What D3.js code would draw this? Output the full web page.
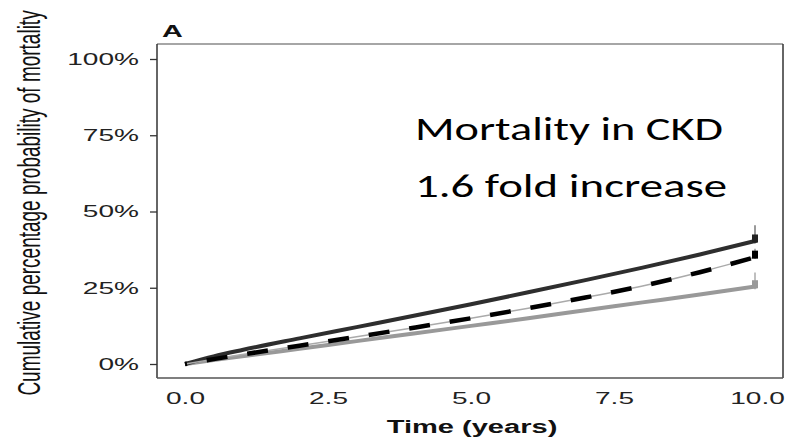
<!DOCTYPE html>
<html>
<head>
<meta charset="utf-8">
<script src="https://cdn.jsdelivr.net/npm/d3@7/dist/d3.min.js"></script>
<style>
  body { margin: 0; background: #fff; }
  svg { display: block; }
</style>
</head>
<body>
<div id="chart"></div>
<script>
// time points (years) and cumulative mortality (%)
var years = [0, 0.5, 1, 2, 3, 4, 5, 6, 7, 8, 9, 10];
var ckdMortality = [0, 2.5, 4.6, 8.4, 12.1, 15.8, 19.6, 23.5, 27.5, 31.6, 35.9, 40.5];
var dashedMortality = [0, 1.6, 3.1, 6.0, 8.9, 11.9, 15.0, 18.3, 21.8, 25.6, 30.1, 35.2];
var noCkdMortality = [0, 1.3, 2.5, 5.0, 7.5, 10.0, 12.5, 15.0, 17.6, 20.2, 22.8, 25.5];
// confidence bars at the last time point
var endUpper = [45.5, 37.8, 30];
var endLower = [39.5, 34.4, 24.5];
var endValue = [40.5, 35.2, 25.5];
var yTicks = [0, 25, 50, 75, 100];
var xTicks = [0, 2.5, 5, 7.5, 10];
var note = ["Mortality in CKD", "1.6 fold increase"];

var W = 789, H = 439;
var stretch = 1.65;
var frame = { left: 157, right: 783, top: 44, bottom: 378 };

var x = d3.scaleLinear().domain([0, 10]).range([185, 757]);
var y = d3.scaleLinear().domain([0, 100]).range([364, 59]);

var svg = d3.select("#chart").append("svg")
    .attr("width", W)
    .attr("height", H)
    .style("font-family", "'Liberation Sans', Arial, sans-serif");

// y axis ticks and labels
var yAxis = d3.axisLeft(y)
    .tickValues(yTicks)
    .tickSize(7)
    .tickFormat(function (d) { return d + "%"; });
var gy = svg.append("g")
    .attr("transform", "translate(" + frame.left + ",0)")
    .call(yAxis);
gy.select(".domain").remove();
gy.selectAll(".tick line").attr("stroke", "#333").attr("stroke-width", 1.3);
gy.selectAll(".tick text")
    .attr("x", 0)
    .attr("transform", "translate(-18,0) scale(" + stretch + ",1)")
    .style("font-size", "17px")
    .style("fill", "#222");

// x axis labels (no tick marks)
var gx = svg.append("g")
    .attr("transform", "translate(0," + frame.bottom + ")")
    .call(d3.axisBottom(x).tickValues(xTicks).tickSize(0).tickFormat(d3.format(".1f")));
gx.select(".domain").remove();
gx.selectAll(".tick text")
    .attr("y", 0)
    .attr("dy", 0)
    .attr("transform", "translate(0,26) scale(" + stretch + ",1)")
    .style("font-size", "17px")
    .style("fill", "#222");

// frame
svg.append("line").attr("x1", frame.left).attr("x2", frame.right)
    .attr("y1", frame.top).attr("y2", frame.top)
    .attr("stroke", "#888").attr("stroke-width", 1.5);
svg.append("line").attr("x1", frame.left).attr("x2", frame.left)
    .attr("y1", frame.top).attr("y2", frame.bottom)
    .attr("stroke", "#333").attr("stroke-width", 1.5);
svg.append("line").attr("x1", frame.right).attr("x2", frame.right)
    .attr("y1", frame.top).attr("y2", frame.bottom)
    .attr("stroke", "#333").attr("stroke-width", 1.5);
svg.append("line").attr("x1", frame.left).attr("x2", frame.right)
    .attr("y1", frame.bottom).attr("y2", frame.bottom)
    .attr("stroke", "#555").attr("stroke-width", 1.5);

var line = d3.line()
    .x(function (d, i) { return x(years[i]); })
    .y(function (d) { return y(d); })
    .curve(d3.curveMonotoneX);

// confidence bars at 10 years
var barColors = ["#777", "#999", "#aaa"];
svg.selectAll("line.endbar")
    .data(endUpper).enter()
    .append("line")
    .attr("class", "endbar")
    .attr("x1", x(10) - 2).attr("x2", x(10) - 2)
    .attr("y1", function (d) { return y(d); })
    .attr("y2", function (d, i) { return y(endLower[i]); })
    .attr("stroke", function (d, i) { return barColors[i]; })
    .attr("stroke-width", 1.5);

// lines
svg.append("path").datum(noCkdMortality)
    .attr("d", line).attr("fill", "none")
    .attr("stroke", "#999").attr("stroke-width", 4);
svg.append("path").datum(ckdMortality)
    .attr("d", line).attr("fill", "none")
    .attr("stroke", "#2e2e2e").attr("stroke-width", 4);
svg.append("path").datum(dashedMortality)
    .attr("d", line).attr("fill", "none")
    .attr("stroke", "#aaa").attr("stroke-width", 1.5);
svg.append("path").datum(dashedMortality)
    .attr("d", line).attr("fill", "none")
    .attr("stroke", "#000").attr("stroke-width", 4.5)
    .attr("stroke-dasharray", "21,20")
    .attr("stroke-dashoffset", -22);

// end blobs
var endColors = ["#222", "#000", "#999"];
svg.selectAll("rect.endmark")
    .data(endValue).enter()
    .append("rect")
    .attr("class", "endmark")
    .attr("x", x(10) - 5)
    .attr("y", function (d) { return y(d) - 6; })
    .attr("width", 6)
    .attr("height", 8)
    .attr("fill", function (d, i) { return endColors[i]; });

// axis titles
svg.append("text")
    .attr("transform", "translate(472,433) scale(1.53,1)")
    .attr("text-anchor", "middle")
    .style("font-size", "19px")
    .style("font-weight", "700")
    .style("fill", "#111")
    .text("Time (years)");

svg.append("text")
    .attr("transform", "translate(40,203) scale(" + stretch + ",1) rotate(-90)")
    .attr("text-anchor", "middle")
    .style("font-size", "19px")
    .style("fill", "#111")
    .text("Cumulative percentage probability of mortality");

svg.append("text")
    .attr("transform", "translate(162,37) scale(1.8,1)")
    .style("font-size", "16px")
    .style("font-weight", "700")
    .style("fill", "#111")
    .text("A");

// annotation
svg.selectAll("text.note")
    .data(note).enter()
    .append("text")
    .attr("class", "note")
    .attr("x", 415)
    .attr("y", function (d, i) { return i === 0 ? 140 : 197; })
    .attr("textLength", function (d, i) { return i === 0 ? 308 : 312; })
    .attr("lengthAdjust", "spacingAndGlyphs")
    .style("font-family", "Carlito, 'Open Sans', 'Noto Sans', sans-serif")
    .style("font-size", "33px")
    .style("fill", "#000")
    .text(function (d) { return d; });
</script>
</body>
</html>
